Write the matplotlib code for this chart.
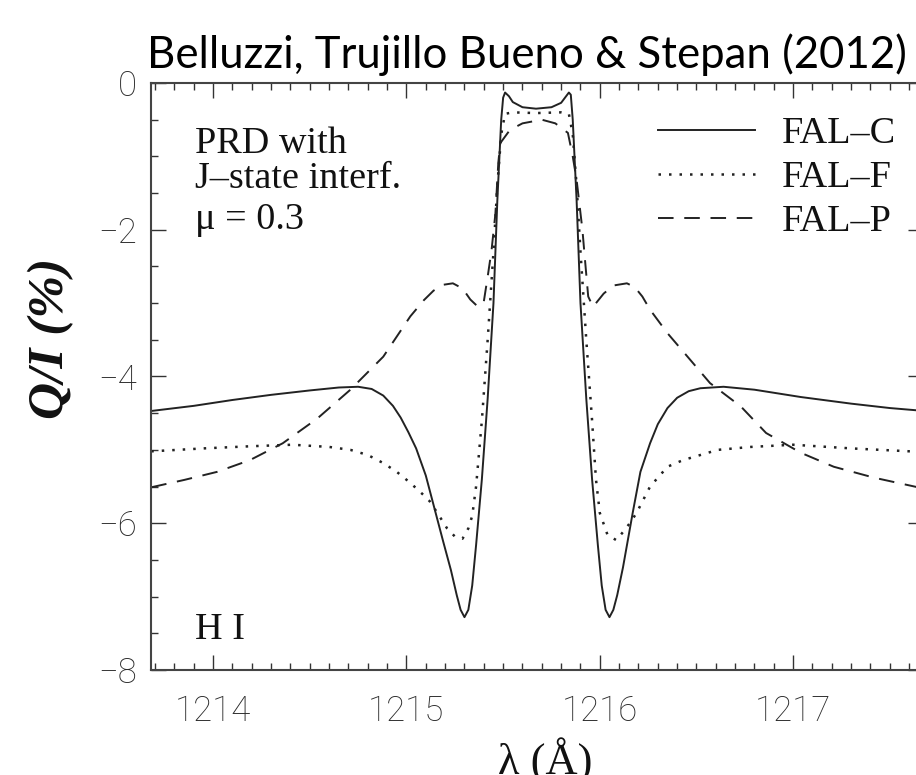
#!/usr/bin/env python3
# -*- coding: utf-8 -*-
import numpy as np
import matplotlib.pyplot as plt
from matplotlib.ticker import MultipleLocator

# FAL-C (solid)
wl_c = [1213.68, 1213.90, 1214.10, 1214.30, 1214.50, 1214.65, 1214.75, 1214.82, 1214.88,
        1214.93, 1214.97, 1215.01, 1215.05, 1215.10, 1215.14, 1215.19, 1215.23, 1215.26,
        1215.28, 1215.30, 1215.32, 1215.34, 1215.36, 1215.39, 1215.42, 1215.45, 1215.47,
        1215.49, 1215.50, 1215.51, 1215.53, 1215.55, 1215.60, 1215.67, 1215.75, 1215.80,
        1215.82, 1215.84, 1215.85, 1215.86, 1215.88, 1215.90, 1215.93, 1215.96, 1215.99,
        1216.01, 1216.03, 1216.05, 1216.07, 1216.09, 1216.12, 1216.17, 1216.21, 1216.26,
        1216.30, 1216.35, 1216.40, 1216.46, 1216.52, 1216.64, 1216.80, 1217.04, 1217.30,
        1217.50, 1217.68]
qi_c = [-4.47, -4.40, -4.32, -4.25, -4.19, -4.15, -4.14, -4.17, -4.26,
        -4.40, -4.56, -4.76, -4.98, -5.35, -5.75, -6.25, -6.64, -6.98,
        -7.18, -7.28, -7.18, -6.85, -6.30, -5.40, -4.30, -3.00, -1.60,
        -0.50, -0.20, -0.13, -0.18, -0.26, -0.33, -0.35, -0.33, -0.27,
        -0.20, -0.13, -0.16, -0.50, -1.60, -3.00, -4.30, -5.40, -6.30,
        -6.85, -7.18, -7.28, -7.18, -6.98, -6.60, -5.86, -5.30, -4.91,
        -4.65, -4.43, -4.29, -4.20, -4.16, -4.14, -4.18, -4.28, -4.37,
        -4.43, -4.47]

# FAL-F (dotted)
wl_f = [1213.68, 1213.95, 1214.20, 1214.41, 1214.60, 1214.71, 1214.80, 1214.88, 1214.95,
        1215.02, 1215.09, 1215.12, 1215.16, 1215.21, 1215.25, 1215.29, 1215.32, 1215.34,
        1215.36, 1215.39, 1215.42, 1215.45, 1215.47, 1215.49, 1215.51, 1215.55, 1215.67,
        1215.80, 1215.84, 1215.86, 1215.88, 1215.90, 1215.93, 1215.96, 1215.98, 1216.00,
        1216.04, 1216.085, 1216.12, 1216.155, 1216.19, 1216.26, 1216.35, 1216.43, 1216.61,
        1216.78, 1217.00, 1217.30, 1217.68]
qi_f = [-5.02, -4.98, -4.95, -4.93, -4.96, -5.00, -5.07, -5.18, -5.30,
        -5.45, -5.62, -5.70, -5.86, -6.07, -6.18, -6.21, -6.07, -5.90,
        -5.50, -4.60, -3.50, -2.30, -1.40, -0.70, -0.42, -0.40, -0.41,
        -0.40, -0.42, -0.70, -1.40, -2.30, -3.50, -4.60, -5.40, -5.86,
        -6.16, -6.23, -6.12, -6.00, -5.86, -5.50, -5.23, -5.14, -5.00,
        -4.96, -4.93, -4.98, -5.03]

# FAL-P (dashed)
wl_p = [1213.68, 1213.85, 1214.02, 1214.19, 1214.36, 1214.54, 1214.71, 1214.88, 1215.02,
        1215.09, 1215.14, 1215.19, 1215.24, 1215.29, 1215.33, 1215.37, 1215.40, 1215.42,
        1215.44, 1215.46, 1215.475, 1215.485, 1215.535, 1215.60, 1215.70, 1215.77, 1215.835,
        1215.86, 1215.88, 1215.91, 1215.925, 1215.94, 1215.965, 1216.02, 1216.07, 1216.14,
        1216.18, 1216.22, 1216.26, 1216.35, 1216.47, 1216.57, 1216.73, 1216.86, 1217.04,
        1217.21, 1217.42, 1217.68]
qi_p = [-5.51, -5.41, -5.30, -5.14, -4.91, -4.57, -4.18, -3.73, -3.18,
        -2.96, -2.83, -2.75, -2.73, -2.80, -2.95, -3.05, -2.98, -2.64,
        -2.28, -1.78, -1.09, -0.82, -0.64, -0.55, -0.50, -0.55, -0.68,
        -1.00, -1.32, -2.00, -2.46, -2.91, -3.05, -2.87, -2.76, -2.73,
        -2.78, -2.91, -3.09, -3.41, -3.78, -4.09, -4.41, -4.77, -5.04,
        -5.23, -5.38, -5.53]

x_ticks = [1214, 1215, 1216, 1217]
y_ticks = [0, -2, -4, -6, -8]

serif = ['Liberation Serif', 'DejaVu Serif']
ink = '#222222'
txt = '#111111'

fig = plt.figure(figsize=(9.16, 7.75), dpi=100)
ax = fig.add_axes([0.1645, 0.1355, 0.8428, 0.7574])

ax.plot(wl_c, qi_c, color=ink, lw=1.4, label='FAL\u2013C')
ax.plot(wl_f, qi_f, color=ink, lw=1.8, linestyle=(0, (1, 3.2)), label='FAL\u2013F')
ax.plot(wl_p, qi_p, color=ink, lw=1.4, linestyle=(0, (8, 5.5)), label='FAL\u2013P')

ax.set_xlim(1213.677, 1217.67)
ax.set_ylim(-8, 0)
ax.set_xticks(x_ticks)
ax.set_yticks(y_ticks)
ax.xaxis.set_minor_locator(MultipleLocator(0.1))
ax.yaxis.set_minor_locator(MultipleLocator(0.5))
ax.tick_params(which='both', direction='in', top=True, right=True, color='#333333', width=1.0)
ax.tick_params(which='major', length=11)
ax.tick_params(which='minor', length=5)
ax.tick_params(axis='x', which='major', pad=18)
ax.tick_params(axis='y', which='major', pad=10)
for lab in ax.get_xticklabels() + ax.get_yticklabels():
    lab.set_fontfamily(['Roboto', 'DejaVu Sans'])
    lab.set_fontweight('light')
    lab.set_fontsize(25)
    lab.set_color('#2a2a2a')
for sp in ax.spines.values():
    sp.set_linewidth(1.5)
    sp.set_color('#444444')

fig.text(51 / 916, 1 - 338 / 775, 'Q/I (%)', family=serif, fontsize=37, fontweight='bold',
         fontstyle='italic', rotation=90, ha='center', va='center', color=txt)
fig.text(545 / 916, 0.0, '\u03bb (\u00c5)', family=serif, fontsize=32, ha='center', va='baseline', color=txt)

ax.text(0.0574, 0.881, 'PRD with', transform=ax.transAxes, family=serif, fontsize=27.5, va='baseline', color=txt)
ax.text(0.0574, 0.821, 'J\u2013state interf.', transform=ax.transAxes, family=serif, fontsize=27.5, va='baseline', color=txt)
ax.text(0.0574, 0.751, '\u03bc = 0.3', transform=ax.transAxes, family=serif, fontsize=27.5, va='baseline', color=txt)
ax.text(0.0574, 0.053, 'H I', transform=ax.transAxes, family=serif, fontsize=27.5, va='baseline', color=txt)

leg = ax.legend(loc='upper left', bbox_to_anchor=(0.657, 0.943), frameon=False,
                prop={'family': serif, 'size': 27.5}, handlelength=2.54, handletextpad=0.71,
                labelspacing=0.24, borderpad=0, borderaxespad=0)
for t in leg.get_texts():
    t.set_color(txt)

fig.text(527 / 916, 1 - 68 / 775, 'Belluzzi, Trujillo Bueno & Stepan (2012)',
         family=['Lato', 'DejaVu Sans'], fontsize=31.5, ha='center', va='baseline', color='black')

fig.savefig('out.png', dpi=100)
plt.close(fig)
